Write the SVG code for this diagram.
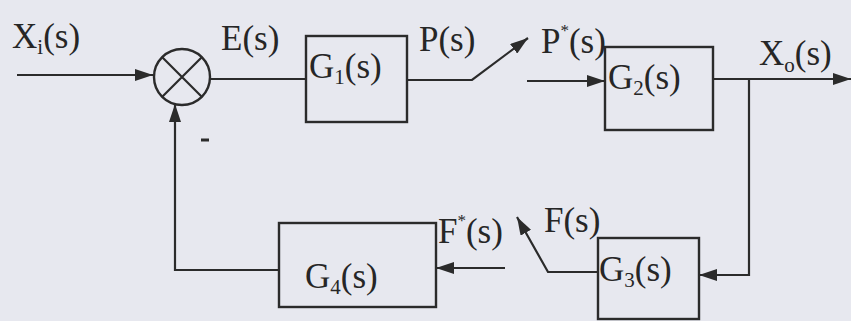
<svg xmlns="http://www.w3.org/2000/svg" width="851" height="321" viewBox="0 0 851 321">
<defs>
<marker id="arr" markerUnits="userSpaceOnUse" markerWidth="20" markerHeight="12" refX="18" refY="6" orient="auto">
<path d="M0,0 L18,6 L0,12 Z" fill="#2b2b2b"/>
</marker>
<style>
.ln{fill:none;stroke:#2b2b2b;stroke-width:2.2}
.bx{fill:none;stroke:#2b2b2b;stroke-width:2.4}
.t{font-family:"Liberation Serif","Times New Roman",serif;font-size:35px;fill:#262626}
.sub{font-size:21px}
.sup{font-size:17px}
</style>
</defs>
<rect width="851" height="321" fill="#e7e8ef"/>
<g id="connectors">
<path class="ln" d="M17,75 L153,75" marker-end="url(#arr)"/>
<path class="ln" d="M210,79 L306,79"/>
<path class="ln" d="M407,80 L472,80 L528,38" marker-end="url(#arr)"/>
<path class="ln" d="M527,81 L605,81" marker-end="url(#arr)"/>
<path class="ln" d="M713,79 L851,79" marker-end="url(#arr)"/>
<path class="ln" d="M749,79 L749,275 L699,275" marker-end="url(#arr)"/>
<path class="ln" d="M598,272 L548,272 L517,217" marker-end="url(#arr)"/>
<path class="ln" d="M505,268 L436,268" marker-end="url(#arr)"/>
<path class="ln" d="M279,270 L175,270 L175,104" marker-end="url(#arr)"/>
</g>
<g id="sum">
<circle class="bx" cx="182" cy="77" r="28"/>
<path class="ln" d="M162,57 L202,97 M202,57 L162,97"/>
<path class="ln" d="M201,140 L209,140" style="stroke-width:3"/>
</g>
<g id="G1">
<rect class="bx" x="306" y="36" width="101" height="86"/>
<text class="t" x="309" y="78">G<tspan class="sub" dy="6">1</tspan><tspan dy="-6">(s)</tspan></text>
</g>
<g id="G2">
<rect class="bx" x="605" y="47" width="108" height="83"/>
<text class="t" x="608" y="89">G<tspan class="sub" dy="6">2</tspan><tspan dy="-6">(s)</tspan></text>
</g>
<g id="G3">
<rect class="bx" x="598" y="238" width="101" height="81"/>
<text class="t" x="599" y="281">G<tspan class="sub" dy="6">3</tspan><tspan dy="-6">(s)</tspan></text>
</g>
<g id="G4">
<rect class="bx" x="279" y="223" width="157" height="84"/>
<text class="t" x="305" y="288">G<tspan class="sub" dy="6">4</tspan><tspan dy="-6">(s)</tspan></text>
</g>
<g id="labels">
<text class="t" x="12" y="48">X<tspan class="sub" dy="6">i</tspan><tspan dy="-6">(s)</tspan></text>
<text class="t" x="221" y="50">E(s)</text>
<text class="t" x="419" y="51">P(s)</text>
<text class="t" x="541" y="53">P<tspan class="sup" dy="-17">*</tspan><tspan dy="17">(s)</tspan></text>
<text class="t" x="759" y="65">X<tspan class="sub" dy="7">o</tspan><tspan dy="-7">(s)</tspan></text>
<text class="t" x="438" y="243">F<tspan class="sup" dy="-17">*</tspan><tspan dy="17">(s)</tspan></text>
<text class="t" x="544" y="232">F(s)</text>
</g>
</svg>
